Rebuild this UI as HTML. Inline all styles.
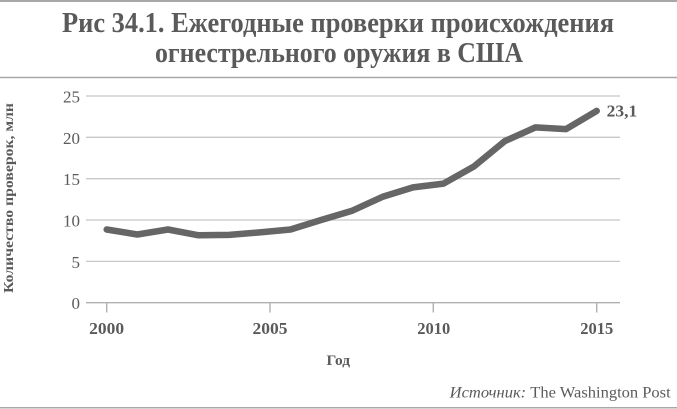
<!DOCTYPE html>
<html><head><meta charset="utf-8"><style>
html,body{margin:0;padding:0;background:#fff;}
svg{display:block;}
text{font-family:"Liberation Serif","DejaVu Serif",serif;}
</style></head><body>
<svg width="677" height="409" viewBox="0 0 677 409" xmlns="http://www.w3.org/2000/svg">
<rect width="677" height="409" fill="#fff"/>
<line x1="0" y1="1" x2="677" y2="1" stroke="#a8a8a8" stroke-width="2"/>
<line x1="0" y1="77.5" x2="677" y2="77.5" stroke="#a8a8a8" stroke-width="1.5"/>
<line x1="0" y1="407.8" x2="677" y2="407.8" stroke="#a8a8a8" stroke-width="1.5"/>
<g fill="#5a5a5a" font-weight="bold" font-size="28" text-anchor="middle">
<text x="338" y="32" textLength="552" lengthAdjust="spacingAndGlyphs">Рис 34.1. Ежегодные проверки происхождения</text>
<text x="339" y="62" textLength="368" lengthAdjust="spacingAndGlyphs">огнестрельного оружия в США</text>
</g>
<g stroke="#c8c8c8" stroke-width="1.3">
<line x1="86" y1="96" x2="620" y2="96"/>
<line x1="86" y1="137.3" x2="620" y2="137.3"/>
<line x1="86" y1="178.7" x2="620" y2="178.7"/>
<line x1="86" y1="220" x2="620" y2="220"/>
<line x1="86" y1="261.4" x2="620" y2="261.4"/>
</g>
<g stroke="#b0b0b0" stroke-width="1.4">
<line x1="86" y1="302.7" x2="620" y2="302.7"/>
<line x1="106.7" y1="302.7" x2="106.7" y2="312.5"/>
<line x1="270" y1="302.7" x2="270" y2="312.5"/>
<line x1="433.3" y1="302.7" x2="433.3" y2="312.5"/>
<line x1="596.7" y1="302.7" x2="596.7" y2="312.5"/>
</g>
<g fill="#5a5a5a" font-size="17" text-anchor="end">
<text x="80" y="102.5">25</text>
<text x="80" y="143.8">20</text>
<text x="80" y="185.2">15</text>
<text x="80" y="226.5">10</text>
<text x="80" y="267.9">5</text>
<text x="80" y="309.2">0</text>
</g>
<g fill="#5a5a5a" font-size="16.5" font-weight="bold" text-anchor="middle">
<text x="106.7" y="334" textLength="35" lengthAdjust="spacingAndGlyphs">2000</text>
<text x="270" y="334" textLength="35" lengthAdjust="spacingAndGlyphs">2005</text>
<text x="433.7" y="334" textLength="33" lengthAdjust="spacingAndGlyphs">2010</text>
<text x="596.7" y="334" textLength="33" lengthAdjust="spacingAndGlyphs">2015</text>
</g>
<text x="338.3" y="365" fill="#5a5a5a" font-size="14.5" font-weight="bold" text-anchor="middle" textLength="23.5" lengthAdjust="spacingAndGlyphs">Год</text>
<text transform="translate(13,198) rotate(-90)" fill="#5a5a5a" font-size="14" font-weight="bold" text-anchor="middle" textLength="190" lengthAdjust="spacingAndGlyphs">Количество проверок, млн</text>
<text x="670.7" y="397.3" fill="#5a5a5a" font-size="15.5" text-anchor="end" textLength="221" lengthAdjust="spacingAndGlyphs"><tspan font-style="italic">Источник:</tspan> The Washington Post</text>
<polyline fill="none" stroke="#666666" stroke-width="6.5" stroke-linejoin="round" stroke-linecap="round"
points="106.7,229.5 137.3,234.5 168,229.5 198.6,235.3 229.2,234.9 259.8,232.4 290.5,229.5 321.1,220 351.7,210.9 382.3,196.9 413,187.4 443.6,183.6 474.2,166.3 504.8,141.1 535.5,127.4 566.1,129.1 596.7,110.9"/>
<text x="606.7" y="116.7" fill="#5a5a5a" font-size="17" font-weight="bold" textLength="30.6" lengthAdjust="spacingAndGlyphs">23,1</text>
</svg>
</body></html>
